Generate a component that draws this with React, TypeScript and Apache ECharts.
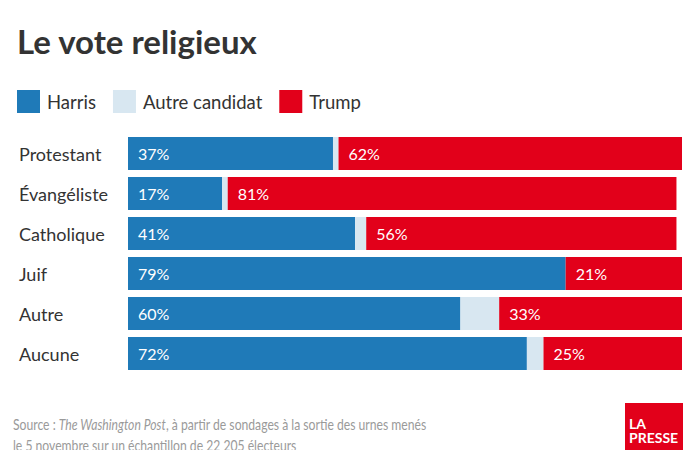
import React, { useEffect, useRef } from "react";
import * as echarts from "echarts";

const categories = ["Protestant", "Évangéliste", "Catholique", "Juif", "Autre", "Aucune"];
const harris = [37, 17, 41, 79, 60, 72];
const autre = [1, 1, 2, 0, 7, 3];
const trump = [62, 81, 56, 21, 33, 25];

const BLUE = "#1f7ab8";
const LIGHT = "#d8e7f1";
const RED = "#e2001a";
const FONT = "Lato, 'Open Sans', sans-serif";

export default function App() {
  const ref = useRef<HTMLDivElement>(null);
  useEffect(() => {
    document.body.style.margin = "0";
    const chart = echarts.init(ref.current!, null, { renderer: "svg" });
    const label = {
      show: true,
      position: "insideLeft" as const,
      distance: 10,
      color: "#fff",
      fontSize: 16,
      fontFamily: FONT,
      formatter: (p: any) => p.value + "%",
    };
    chart.setOption({
      animation: false,
      backgroundColor: "#fff",
      textStyle: { fontFamily: FONT },
      legend: {
        left: 12,
        top: 85,
        icon: "rect",
        itemWidth: 23,
        itemHeight: 23,
        itemGap: 17,
        textStyle: { fontSize: 18.5, color: "#333", fontFamily: FONT, padding: [0, 0, 0, 2] },
        data: ["Harris", "Autre candidat", "Trump"],
      },
      grid: { left: 128, right: 18, top: 133.5, height: 240 },
      xAxis: { type: "value", min: 0, max: 100, show: false },
      yAxis: {
        type: "category",
        data: categories,
        inverse: true,
        axisLine: { show: false },
        axisTick: { show: false },
        axisLabel: { align: "left", margin: 109, fontSize: 18, color: "#333", fontFamily: FONT },
      },
      series: [
        {
          name: "Harris",
          type: "bar",
          stack: "t",
          data: harris,
          barCategoryGap: "17.5%",
          itemStyle: { color: BLUE },
          label,
        },
        {
          name: "Autre candidat",
          type: "bar",
          stack: "t",
          data: autre,
          itemStyle: { color: LIGHT },
          label: { show: false },
        },
        {
          name: "Trump",
          type: "bar",
          stack: "t",
          data: trump,
          itemStyle: { color: RED },
          label,
        },
      ],
      graphic: [
        {
          type: "text",
          left: 17,
          top: 24,
          style: { text: "Le vote religieux", font: `bold 33px ${FONT}`, fill: "#333" },
        },
        {
          type: "text",
          x: 13,
          y: 413,
          scaleX: 0.785,
          originX: 0,
          originY: 0,
          style: {
            x: 0,
            y: 0,
            verticalAlign: "top",
            text: "{r|Source : }{i|The Washington Post}{r|, à partir de sondages à la sortie des urnes menés}\n{r|le 5 novembre sur un échantillon de 22 205 électeurs}",
            rich: {
              r: { fontSize: 15.5, fontFamily: FONT, fill: "#9a9a9a", lineHeight: 21 },
              i: { fontSize: 15.5, fontFamily: FONT, fontStyle: "italic", fill: "#9a9a9a", lineHeight: 21 },
            },
          },
        },
        {
          type: "rect",
          shape: { x: 625, y: 403, width: 58, height: 50 },
          style: { fill: RED },
        },
        {
          type: "text",
          x: 629,
          y: 416,
          style: {
            x: 0,
            y: 0,
            verticalAlign: "top",
            text: "LA\nPRESSE",
            font: `bold 14px ${FONT}`,
            lineHeight: 14,
            fill: "#fff",
          },
        },
      ],
    });
    return () => chart.dispose();
  }, []);
  return <div ref={ref} style={{ width: 700, height: 450 }} />;
}
